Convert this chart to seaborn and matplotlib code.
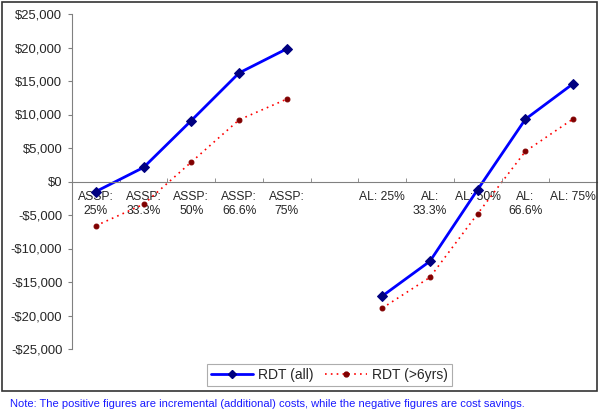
import pandas as pd
import numpy as np
import matplotlib
matplotlib.use('Agg')
import matplotlib.pyplot as plt
import seaborn as sns
from matplotlib.ticker import FuncFormatter, FixedLocator
from matplotlib.lines import Line2D
from matplotlib.patches import Rectangle

# categories (blank slot separates the two groups)
categories = ['ASSP:\n25%', 'ASSP:\n33.3%', 'ASSP:\n50%', 'ASSP:\n66.6%', 'ASSP:\n75%', '',
              'AL: 25%', 'AL:\n33.3%', 'AL: 50%', 'AL:\n66.6%', 'AL: 75%']
groups = ['ASSP'] * 5 + [None] + ['AL'] * 5

rdt_all = [-1500, 2100, 9100, 16200, 19800, np.nan, -17100, -11900, -1200, 9300, 14600]
rdt_6yrs = [-6600, -3400, 2900, 9200, 12300, np.nan, -18900, -14300, -4800, 4500, 9350]

sns.set_style('white')
plt.rcParams['font.family'] = ['Liberation Sans', 'DejaVu Sans']

df = pd.DataFrame({'pos': np.arange(len(categories)), 'group': groups,
                   'all': rdt_all, 'old': rdt_6yrs}).dropna()

fig = plt.figure(figsize=(6, 4.17), dpi=100)
ax = fig.add_axes([72 / 600, 1 - 349 / 417, 525 / 600, 335 / 417])

sns.lineplot(data=df, x='pos', y='all', units='group', estimator=None, ax=ax,
             color='#0000FF', lw=2, marker='D', markersize=5,
             markerfacecolor='#000080', markeredgecolor='#000080')
sns.lineplot(data=df, x='pos', y='old', units='group', estimator=None, ax=ax,
             color='#FF0000', lw=1.2, linestyle=(0, (1, 2.5)), marker='o', markersize=3.5,
             markerfacecolor='#800000', markeredgecolor='#800000')

ax.set_xlim(-0.5, len(categories) - 0.5)
ax.set_ylim(-25000, 25000)
ax.set_yticks(np.arange(-25000, 25001, 5000))
ax.yaxis.set_major_formatter(FuncFormatter(lambda v, p: ('-$' if v < 0 else '$') + f'{abs(v):,.0f}'))

ax.set_xticks(np.arange(len(categories)))
ax.set_xticklabels(categories)
for lbl in ax.get_xticklabels():
    lbl.set_linespacing(1.4)
ax.xaxis.set_minor_locator(FixedLocator(np.arange(0.5, len(categories) - 0.5, 1)))
ax.tick_params(axis='x', which='major', length=0, pad=7, labelsize=8.7)
ax.tick_params(axis='x', which='minor', length=3, direction='in', color='#808080')
ax.tick_params(axis='y', length=3, direction='out', color='#808080', pad=4, labelsize=9.4)
ax.xaxis.set_ticks_position('bottom')
ax.yaxis.set_ticks_position('left')
ax.set_xlabel('')
ax.set_ylabel('')

ax.spines['bottom'].set_position(('data', 0))
ax.spines['bottom'].set_color('#808080')
ax.spines['left'].set_color('#808080')
ax.spines['top'].set_visible(False)
ax.spines['right'].set_visible(False)

handles = [Line2D([], [], color='#0000FF', lw=2, marker='D', markersize=4.5,
                  markerfacecolor='#000080', markeredgecolor='#000080'),
           Line2D([], [], color='#FF0000', lw=1.2, linestyle=(0, (1, 2.5)), marker='o', markersize=3.5,
                  markerfacecolor='#800000', markeredgecolor='#800000')]
leg = fig.legend(handles, ['RDT (all)', 'RDT (>6yrs)'], ncol=2, loc='center',
                 bbox_to_anchor=(329.5 / 600, 1 - 375 / 417), frameon=True, fancybox=False,
                 edgecolor='#999999', fontsize=10, handlelength=3, columnspacing=0.8,
                 borderpad=0.3, handletextpad=0.4, borderaxespad=0)
leg.get_frame().set_linewidth(0.8)

fig.patches.append(Rectangle((2 / 600, 1 - 391 / 417), 595 / 600, 389 / 417,
                             transform=fig.transFigure, fill=False, edgecolor='#333333', lw=1.2))

fig.text(10 / 600, 1 - 404 / 417,
         'Note: The positive figures are incremental (additional) costs, while the negative figures are cost savings.',
         color='#1a1aff', fontsize=8, va='center', ha='left')

fig.savefig('out.png', dpi=100)
